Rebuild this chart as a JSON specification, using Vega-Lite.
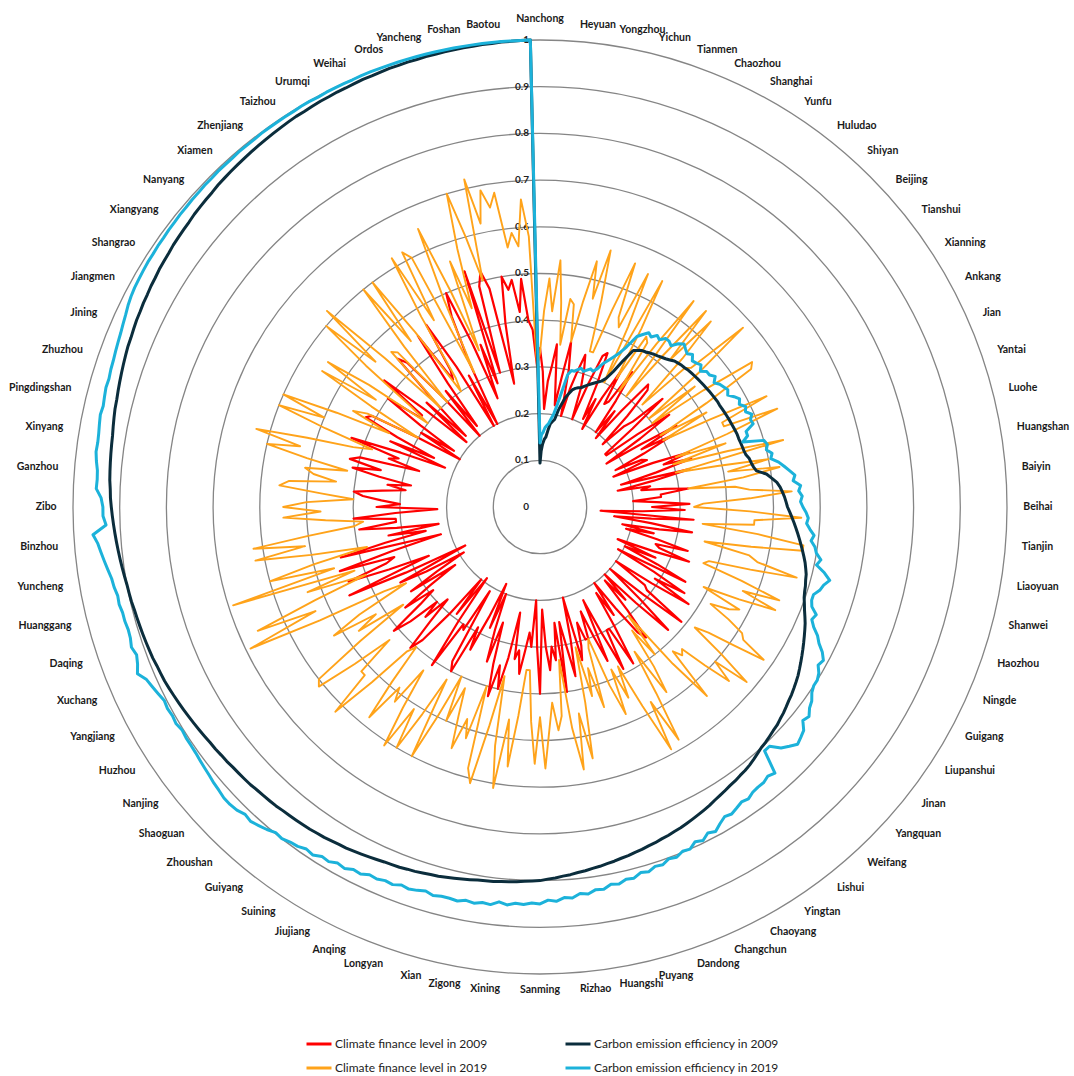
{
"$schema":"https://vega.github.io/schema/vega-lite/v6.json",
"width":1074,"height":1076,"autosize":"none","padding":0,"background":"white",
"config":{"view":{"stroke":null},"font":"Lato"},
"datasets":{
"rings":[{"g":0},{"g":0.1},{"g":0.2},{"g":0.3},{"g":0.4},{"g":0.5},{"g":0.6},{"g":0.7},{"g":0.8},{"g":0.9},{"g":1}],
"cities":[
{"i":0,"city":"Nanchong","cf09":0.34,"cf19":0.33,"ce09":0.094,"ce19":0.137},
{"i":1,"cf09":0.29,"cf19":0.42,"ce09":0.12,"ce19":0.155},
{"i":2,"cf09":0.21,"cf19":0.49,"ce09":0.135,"ce19":0.16},
{"i":3,"cf09":0.27,"cf19":0.42,"ce09":0.145,"ce19":0.17},
{"i":4,"city":"Heyuan","cf09":0.30,"cf19":0.53,"ce09":0.15,"ce19":0.175},
{"i":5,"cf09":0.35,"cf19":0.44,"ce09":0.165,"ce19":0.18},
{"i":6,"cf09":0.27,"cf19":0.35,"ce09":0.18,"ce19":0.19},
{"i":7,"cf09":0.22,"cf19":0.45,"ce09":0.185,"ce19":0.20},
{"i":8,"city":"Yongzhou","cf09":0.28,"cf19":0.44,"ce09":0.19,"ce19":0.22},
{"i":9,"cf09":0.36,"cf19":0.36,"ce09":0.21,"ce19":0.25},
{"i":10,"cf09":0.30,"cf19":0.45,"ce09":0.225,"ce19":0.29},
{"i":11,"cf09":0.20,"cf19":0.54,"ce09":0.24,"ce19":0.30},
{"i":12,"city":"Yichun","cf09":0.26,"cf19":0.46,"ce09":0.25,"ce19":0.30},
{"i":13,"cf09":0.30,"cf19":0.57,"ce09":0.26,"ce19":0.305},
{"i":14,"cf09":0.34,"cf19":0.46,"ce09":0.265,"ce19":0.31},
{"i":15,"cf09":0.31,"cf19":0.35,"ce09":0.268,"ce19":0.305},
{"i":16,"city":"Tianmen","cf09":0.27,"cf19":0.35,"ce09":0.27,"ce19":0.31},
{"i":17,"cf09":0.20,"cf19":0.45,"ce09":0.275,"ce19":0.315},
{"i":18,"cf09":0.28,"cf19":0.56,"ce09":0.28,"ce19":0.312},
{"i":19,"cf09":0.35,"cf19":0.44,"ce09":0.285,"ce19":0.32},
{"i":20,"city":"Chaozhou","cf09":0.36,"cf19":0.42,"ce09":0.29,"ce19":0.335},
{"i":21,"cf09":0.29,"cf19":0.55,"ce09":0.295,"ce19":0.345},
{"i":22,"cf09":0.21,"cf19":0.43,"ce09":0.30,"ce19":0.357},
{"i":23,"cf09":0.26,"cf19":0.30,"ce09":0.31,"ce19":0.37},
{"i":24,"city":"Shanghai","cf09":0.19,"cf19":0.55,"ce09":0.33,"ce19":0.39},
{"i":25,"cf09":0.27,"cf19":0.44,"ce09":0.36,"ce19":0.42},
{"i":26,"cf09":0.34,"cf19":0.32,"ce09":0.39,"ce19":0.43},
{"i":27,"cf09":0.26,"cf19":0.43,"ce09":0.395,"ce19":0.44},
{"i":28,"city":"Yunfu","cf09":0.27,"cf19":0.42,"ce09":0.40,"ce19":0.435},
{"i":29,"cf09":0.35,"cf19":0.30,"ce09":0.402,"ce19":0.445},
{"i":30,"cf09":0.28,"cf19":0.43,"ce09":0.405,"ce19":0.44},
{"i":31,"cf09":0.20,"cf19":0.55,"ce09":0.408,"ce19":0.45},
{"i":32,"city":"Huludao","cf09":0.26,"cf19":0.30,"ce09":0.41,"ce19":0.45},
{"i":33,"cf09":0.19,"cf19":0.42,"ce09":0.413,"ce19":0.445},
{"i":34,"cf09":0.27,"cf19":0.55,"ce09":0.416,"ce19":0.458},
{"i":35,"cf09":0.35,"cf19":0.42,"ce09":0.42,"ce19":0.466},
{"i":36,"city":"Shiyan","cf09":0.34,"cf19":0.54,"ce09":0.425,"ce19":0.46},
{"i":37,"cf09":0.27,"cf19":0.44,"ce09":0.427,"ce19":0.455},
{"i":38,"cf09":0.19,"cf19":0.31,"ce09":0.429,"ce19":0.462},
{"i":39,"cf09":0.25,"cf19":0.43,"ce09":0.43,"ce19":0.452},
{"i":40,"city":"Beijing","cf09":0.27,"cf19":0.44,"ce09":0.432,"ce19":0.455},
{"i":41,"cf09":0.35,"cf19":0.58,"ce09":0.433,"ce19":0.46},
{"i":42,"cf09":0.26,"cf19":0.45,"ce09":0.434,"ce19":0.45},
{"i":43,"cf09":0.18,"cf19":0.30,"ce09":0.435,"ce19":0.46},
{"i":44,"city":"Tianshui","cf09":0.18,"cf19":0.42,"ce09":0.436,"ce19":0.46},
{"i":45,"cf09":0.26,"cf19":0.30,"ce09":0.437,"ce19":0.468},
{"i":46,"cf09":0.34,"cf19":0.43,"ce09":0.438,"ce19":0.458},
{"i":47,"cf09":0.26,"cf19":0.55,"ce09":0.439,"ce19":0.466},
{"i":48,"city":"Xianning","cf09":0.17,"cf19":0.54,"ce09":0.44,"ce19":0.47},
{"i":49,"cf09":0.25,"cf19":0.42,"ce09":0.441,"ce19":0.474},
{"i":50,"cf09":0.34,"cf19":0.30,"ce09":0.442,"ce19":0.468},
{"i":51,"cf09":0.25,"cf19":0.41,"ce09":0.442,"ce19":0.478},
{"i":52,"city":"Ankang","cf09":0.32,"cf19":0.30,"ce09":0.443,"ce19":0.486},
{"i":53,"cf09":0.25,"cf19":0.41,"ce09":0.444,"ce19":0.48},
{"i":54,"cf09":0.18,"cf19":0.54,"ce09":0.445,"ce19":0.49},
{"i":55,"cf09":0.24,"cf19":0.43,"ce09":0.446,"ce19":0.485},
{"i":56,"city":"Jian","cf09":0.25,"cf19":0.43,"ce09":0.447,"ce19":0.495},
{"i":57,"cf09":0.17,"cf19":0.55,"ce09":0.448,"ce19":0.488},
{"i":58,"cf09":0.26,"cf19":0.43,"ce09":0.449,"ce19":0.49},
{"i":59,"cf09":0.34,"cf19":0.31,"ce09":0.45,"ce19":0.47},
{"i":60,"city":"Yantai","cf09":0.28,"cf19":0.42,"ce09":0.45,"ce19":0.47},
{"i":61,"cf09":0.34,"cf19":0.30,"ce09":0.451,"ce19":0.456},
{"i":62,"cf09":0.26,"cf19":0.42,"ce09":0.452,"ce19":0.50},
{"i":63,"cf09":0.18,"cf19":0.54,"ce09":0.453,"ce19":0.505},
{"i":64,"city":"Luohe","cf09":0.33,"cf19":0.30,"ce09":0.455,"ce19":0.50},
{"i":65,"cf09":0.25,"cf19":0.39,"ce09":0.46,"ce19":0.51},
{"i":66,"cf09":0.17,"cf19":0.50,"ce09":0.462,"ce19":0.505},
{"i":67,"cf09":0.24,"cf19":0.41,"ce09":0.465,"ce19":0.52},
{"i":68,"city":"Huangshan","cf09":0.22,"cf19":0.52,"ce09":0.47,"ce19":0.53},
{"i":69,"cf09":0.27,"cf19":0.44,"ce09":0.49,"ce19":0.54},
{"i":70,"cf09":0.32,"cf19":0.32,"ce09":0.50,"ce19":0.55},
{"i":71,"cf09":0.26,"cf19":0.42,"ce09":0.51,"ce19":0.545},
{"i":72,"city":"Baiyin","cf09":0.26,"cf19":0.45,"ce09":0.516,"ce19":0.56},
{"i":73,"cf09":0.20,"cf19":0.54,"ce09":0.52,"ce19":0.555},
{"i":74,"cf09":0.25,"cf19":0.45,"ce09":0.524,"ce19":0.562},
{"i":75,"cf09":0.32,"cf19":0.35,"ce09":0.527,"ce19":0.558},
{"i":76,"city":"Beihai","cf09":0.24,"cf19":0.33,"ce09":0.53,"ce19":0.563},
{"i":77,"cf09":0.31,"cf19":0.45,"ce09":0.535,"ce19":0.57},
{"i":78,"cf09":0.22,"cf19":0.56,"ce09":0.54,"ce19":0.575},
{"i":79,"cf09":0.13,"cf19":0.46,"ce09":0.545,"ce19":0.572},
{"i":80,"city":"Tianjin","cf09":0.33,"cf19":0.46,"ce09":0.55,"ce19":0.58},
{"i":81,"cf09":0.24,"cf19":0.35,"ce09":0.555,"ce19":0.59},
{"i":82,"cf09":0.16,"cf19":0.47,"ce09":0.56,"ce19":0.585},
{"i":83,"cf09":0.24,"cf19":0.57,"ce09":0.565,"ce19":0.595},
{"i":84,"city":"Liaoyuan","cf09":0.33,"cf19":0.57,"ce09":0.57,"ce19":0.60},
{"i":85,"cf09":0.26,"cf19":0.46,"ce09":0.575,"ce19":0.612},
{"i":86,"cf09":0.18,"cf19":0.36,"ce09":0.58,"ce19":0.605},
{"i":87,"cf09":0.25,"cf19":0.46,"ce09":0.584,"ce19":0.625},
{"i":88,"city":"Shanwei","cf09":0.19,"cf19":0.48,"ce09":0.588,"ce19":0.64},
{"i":89,"cf09":0.26,"cf19":0.57,"ce09":0.59,"ce19":0.63},
{"i":90,"cf09":0.33,"cf19":0.47,"ce09":0.593,"ce19":0.625},
{"i":91,"cf09":0.26,"cf19":0.38,"ce09":0.595,"ce19":0.615},
{"i":92,"city":"Haozhou","cf09":0.27,"cf19":0.37,"ce09":0.598,"ce19":0.615},
{"i":93,"cf09":0.34,"cf19":0.46,"ce09":0.603,"ce19":0.62},
{"i":94,"cf09":0.26,"cf19":0.55,"ce09":0.608,"ce19":0.635},
{"i":95,"cf09":0.18,"cf19":0.47,"ce09":0.614,"ce19":0.63},
{"i":96,"city":"Ningde","cf09":0.27,"cf19":0.55,"ce09":0.62,"ce19":0.64},
{"i":97,"cf09":0.20,"cf19":0.47,"ce09":0.625,"ce19":0.655},
{"i":98,"cf09":0.28,"cf19":0.39,"ce09":0.63,"ce19":0.665},
{"i":99,"cf09":0.35,"cf19":0.48,"ce09":0.635,"ce19":0.68},
{"i":100,"city":"Guigang","cf09":0.19,"cf19":0.46,"ce09":0.64,"ce19":0.69},
{"i":101,"cf09":0.28,"cf19":0.42,"ce09":0.645,"ce19":0.685},
{"i":102,"cf09":0.36,"cf19":0.47,"ce09":0.65,"ce19":0.695},
{"i":103,"cf09":0.29,"cf19":0.51,"ce09":0.655,"ce19":0.70},
{"i":104,"city":"Liupanshui","cf09":0.38,"cf19":0.52,"ce09":0.66,"ce19":0.70},
{"i":105,"cf09":0.29,"cf19":0.58,"ce09":0.664,"ce19":0.705},
{"i":106,"cf09":0.20,"cf19":0.51,"ce09":0.668,"ce19":0.715},
{"i":107,"cf09":0.28,"cf19":0.45,"ce09":0.672,"ce19":0.72},
{"i":108,"city":"Jinan","cf09":0.29,"cf19":0.42,"ce09":0.675,"ce19":0.73},
{"i":109,"cf09":0.39,"cf19":0.50,"ce09":0.679,"ce19":0.725},
{"i":110,"cf09":0.29,"cf19":0.58,"ce09":0.683,"ce19":0.74},
{"i":111,"cf09":0.20,"cf19":0.50,"ce09":0.686,"ce19":0.745},
{"i":112,"city":"Yangquan","cf09":0.29,"cf19":0.55,"ce09":0.69,"ce19":0.75},
{"i":113,"cf09":0.38,"cf19":0.49,"ce09":0.692,"ce19":0.74},
{"i":114,"cf09":0.29,"cf19":0.43,"ce09":0.695,"ce19":0.73},
{"i":115,"cf09":0.20,"cf19":0.44,"ce09":0.698,"ce19":0.71},
{"i":116,"city":"Weifang","cf09":0.27,"cf19":0.42,"ce09":0.70,"ce19":0.71},
{"i":117,"cf09":0.21,"cf19":0.54,"ce09":0.704,"ce19":0.76},
{"i":118,"cf09":0.29,"cf19":0.44,"ce09":0.708,"ce19":0.755},
{"i":119,"cf09":0.36,"cf19":0.30,"ce09":0.712,"ce19":0.76},
{"i":120,"city":"Lishui","cf09":0.34,"cf19":0.40,"ce09":0.715,"ce19":0.76},
{"i":121,"cf09":0.27,"cf19":0.33,"ce09":0.717,"ce19":0.762},
{"i":122,"cf09":0.20,"cf19":0.42,"ce09":0.72,"ce19":0.768},
{"i":123,"cf09":0.28,"cf19":0.48,"ce09":0.722,"ce19":0.765},
{"i":124,"city":"Yingtan","cf09":0.22,"cf19":0.37,"ce09":0.725,"ce19":0.77},
{"i":125,"cf09":0.30,"cf19":0.47,"ce09":0.728,"ce19":0.775},
{"i":126,"cf09":0.39,"cf19":0.58,"ce09":0.731,"ce19":0.772},
{"i":127,"cf09":0.30,"cf19":0.48,"ce09":0.735,"ce19":0.78},
{"i":128,"city":"Chaoyang","cf09":0.30,"cf19":0.59,"ce09":0.738,"ce19":0.79},
{"i":129,"cf09":0.39,"cf19":0.48,"ce09":0.741,"ce19":0.785},
{"i":130,"cf09":0.30,"cf19":0.38,"ce09":0.744,"ce19":0.795},
{"i":131,"cf09":0.22,"cf19":0.45,"ce09":0.747,"ce19":0.79},
{"i":132,"city":"Changchun","cf09":0.36,"cf19":0.38,"ce09":0.75,"ce19":0.80},
{"i":133,"cf09":0.30,"cf19":0.48,"ce09":0.752,"ce19":0.798},
{"i":134,"cf09":0.24,"cf19":0.41,"ce09":0.755,"ce19":0.805},
{"i":135,"cf09":0.30,"cf19":0.30,"ce09":0.757,"ce19":0.802},
{"i":136,"city":"Dandong","cf09":0.30,"cf19":0.32,"ce09":0.76,"ce19":0.81},
{"i":137,"cf09":0.26,"cf19":0.45,"ce09":0.762,"ce19":0.808},
{"i":138,"cf09":0.31,"cf19":0.36,"ce09":0.765,"ce19":0.815},
{"i":139,"cf09":0.34,"cf19":0.42,"ce09":0.767,"ce19":0.812},
{"i":140,"city":"Puyang","cf09":0.20,"cf19":0.31,"ce09":0.77,"ce19":0.82},
{"i":141,"cf09":0.29,"cf19":0.43,"ce09":0.772,"ce19":0.818},
{"i":142,"cf09":0.37,"cf19":0.55,"ce09":0.775,"ce19":0.825},
{"i":143,"cf09":0.30,"cf19":0.45,"ce09":0.777,"ce19":0.822},
{"i":144,"city":"Huangshi","cf09":0.25,"cf19":0.57,"ce09":0.78,"ce19":0.83},
{"i":145,"cf09":0.40,"cf19":0.48,"ce09":0.782,"ce19":0.828},
{"i":146,"cf09":0.25,"cf19":0.33,"ce09":0.785,"ce19":0.835},
{"i":147,"cf09":0.33,"cf19":0.45,"ce09":0.787,"ce19":0.832},
{"i":148,"city":"Rizhao","cf09":0.30,"cf19":0.48,"ce09":0.79,"ce19":0.84},
{"i":149,"cf09":0.35,"cf19":0.42,"ce09":0.792,"ce19":0.838},
{"i":150,"cf09":0.30,"cf19":0.48,"ce09":0.795,"ce19":0.845},
{"i":151,"cf09":0.22,"cf19":0.56,"ce09":0.797,"ce19":0.842},
{"i":152,"city":"Sanming","cf09":0.40,"cf19":0.45,"ce09":0.80,"ce19":0.85},
{"i":153,"cf09":0.30,"cf19":0.55,"ce09":0.801,"ce19":0.848},
{"i":154,"cf09":0.20,"cf19":0.46,"ce09":0.802,"ce19":0.852},
{"i":155,"cf09":0.30,"cf19":0.35,"ce09":0.804,"ce19":0.85},
{"i":156,"city":"Xining","cf09":0.27,"cf19":0.35,"ce09":0.805,"ce19":0.855},
{"i":157,"cf09":0.31,"cf19":0.45,"ce09":0.806,"ce19":0.85},
{"i":158,"cf09":0.36,"cf19":0.56,"ce09":0.808,"ce19":0.858},
{"i":159,"cf09":0.31,"cf19":0.46,"ce09":0.809,"ce19":0.856},
{"i":160,"city":"Zigong","cf09":0.33,"cf19":0.61,"ce09":0.81,"ce19":0.86},
{"i":161,"cf09":0.23,"cf19":0.52,"ce09":0.812,"ce19":0.857},
{"i":162,"cf09":0.33,"cf19":0.37,"ce09":0.814,"ce19":0.862},
{"i":163,"cf09":0.40,"cf19":0.48,"ce09":0.816,"ce19":0.86},
{"i":164,"city":"Xian","cf09":0.35,"cf19":0.61,"ce09":0.818,"ce19":0.86},
{"i":165,"cf09":0.42,"cf19":0.58,"ce09":0.82,"ce19":0.863},
{"i":166,"cf09":0.35,"cf19":0.40,"ce09":0.821,"ce19":0.858},
{"i":167,"cf09":0.26,"cf19":0.52,"ce09":0.823,"ce19":0.862},
{"i":168,"city":"Longyan","cf09":0.35,"cf19":0.48,"ce09":0.825,"ce19":0.865},
{"i":169,"cf09":0.28,"cf19":0.55,"ce09":0.826,"ce19":0.862},
{"i":170,"cf09":0.20,"cf19":0.48,"ce09":0.828,"ce19":0.868},
{"i":171,"cf09":0.28,"cf19":0.42,"ce09":0.829,"ce19":0.866},
{"i":172,"city":"Anqing","cf09":0.18,"cf19":0.50,"ce09":0.83,"ce19":0.87},
{"i":173,"cf09":0.26,"cf19":0.40,"ce09":0.832,"ce19":0.868},
{"i":174,"cf09":0.34,"cf19":0.50,"ce09":0.834,"ce19":0.875},
{"i":175,"cf09":0.29,"cf19":0.60,"ce09":0.836,"ce19":0.873},
{"i":176,"city":"Jiujiang","cf09":0.40,"cf19":0.42,"ce09":0.838,"ce19":0.88},
{"i":177,"cf09":0.38,"cf19":0.51,"ce09":0.84,"ce19":0.877},
{"i":178,"cf09":0.21,"cf19":0.60,"ce09":0.841,"ce19":0.884},
{"i":179,"cf09":0.31,"cf19":0.51,"ce09":0.843,"ce19":0.882},
{"i":180,"city":"Suining","cf09":0.30,"cf19":0.61,"ce09":0.845,"ce19":0.89},
{"i":181,"cf09":0.41,"cf19":0.52,"ce09":0.846,"ce19":0.887},
{"i":182,"cf09":0.30,"cf19":0.43,"ce09":0.848,"ce19":0.893},
{"i":183,"cf09":0.19,"cf19":0.52,"ce09":0.849,"ce19":0.895},
{"i":184,"city":"Guiyang","cf09":0.29,"cf19":0.49,"ce09":0.85,"ce19":0.90},
{"i":185,"cf09":0.20,"cf19":0.58,"ce09":0.851,"ce19":0.898},
{"i":186,"cf09":0.30,"cf19":0.49,"ce09":0.852,"ce19":0.905},
{"i":187,"cf09":0.38,"cf19":0.40,"ce09":0.854,"ce19":0.91},
{"i":188,"city":"Zhoushan","cf09":0.41,"cf19":0.42,"ce09":0.855,"ce19":0.915},
{"i":189,"cf09":0.34,"cf19":0.52,"ce09":0.856,"ce19":0.912},
{"i":190,"cf09":0.28,"cf19":0.62,"ce09":0.857,"ce19":0.918},
{"i":191,"cf09":0.34,"cf19":0.52,"ce09":0.859,"ce19":0.92},
{"i":192,"city":"Shaoguan","cf09":0.30,"cf19":0.52,"ce09":0.86,"ce19":0.92},
{"i":193,"cf09":0.37,"cf19":0.43,"ce09":0.861,"ce19":0.917},
{"i":194,"cf09":0.41,"cf19":0.52,"ce09":0.862,"ce19":0.915},
{"i":195,"cf09":0.33,"cf19":0.61,"ce09":0.864,"ce19":0.912},
{"i":196,"city":"Nanjing","cf09":0.29,"cf19":0.60,"ce09":0.865,"ce19":0.91},
{"i":197,"cf09":0.36,"cf19":0.48,"ce09":0.867,"ce19":0.908},
{"i":198,"cf09":0.29,"cf19":0.36,"ce09":0.868,"ce19":0.906},
{"i":199,"cf09":0.22,"cf19":0.47,"ce09":0.87,"ce19":0.905},
{"i":200,"city":"Huzhou","cf09":0.33,"cf19":0.42,"ce09":0.872,"ce19":0.905},
{"i":201,"cf09":0.26,"cf19":0.52,"ce09":0.874,"ce19":0.903},
{"i":202,"cf09":0.19,"cf19":0.45,"ce09":0.876,"ce19":0.907},
{"i":203,"cf09":0.28,"cf19":0.33,"ce09":0.878,"ce19":0.905},
{"i":204,"city":"Yangjiang","cf09":0.34,"cf19":0.38,"ce09":0.88,"ce19":0.907},
{"i":205,"cf09":0.18,"cf19":0.53,"ce09":0.882,"ce19":0.905},
{"i":206,"cf09":0.32,"cf19":0.69,"ce09":0.884,"ce19":0.91},
{"i":207,"cf09":0.45,"cf19":0.53,"ce09":0.886,"ce19":0.915},
{"i":208,"city":"Xuchang","cf09":0.26,"cf19":0.66,"ce09":0.887,"ce19":0.92},
{"i":209,"cf09":0.35,"cf19":0.52,"ce09":0.888,"ce19":0.933},
{"i":210,"cf09":0.44,"cf19":0.40,"ce09":0.89,"ce19":0.925},
{"i":211,"cf09":0.35,"cf19":0.53,"ce09":0.891,"ce19":0.92},
{"i":212,"city":"Daqing","cf09":0.33,"cf19":0.42,"ce09":0.892,"ce19":0.925},
{"i":213,"cf09":0.45,"cf19":0.69,"ce09":0.893,"ce19":0.921},
{"i":214,"cf09":0.33,"cf19":0.46,"ce09":0.894,"ce19":0.92},
{"i":215,"cf09":0.22,"cf19":0.60,"ce09":0.895,"ce19":0.922},
{"i":216,"city":"Huanggang","cf09":0.44,"cf19":0.50,"ce09":0.896,"ce19":0.922},
{"i":217,"cf09":0.34,"cf19":0.38,"ce09":0.898,"ce19":0.925},
{"i":218,"cf09":0.25,"cf19":0.50,"ce09":0.899,"ce19":0.924},
{"i":219,"cf09":0.33,"cf19":0.62,"ce09":0.90,"ce19":0.928},
{"i":220,"city":"Yuncheng","cf09":0.22,"cf19":0.51,"ce09":0.902,"ce19":0.93},
{"i":221,"cf09":0.31,"cf19":0.62,"ce09":0.904,"ce19":0.935},
{"i":222,"cf09":0.39,"cf19":0.50,"ce09":0.906,"ce19":0.94},
{"i":223,"cf09":0.31,"cf19":0.40,"ce09":0.908,"ce19":0.945},
{"i":224,"city":"Binzhou","cf09":0.31,"cf19":0.38,"ce09":0.91,"ce19":0.95},
{"i":225,"cf09":0.40,"cf19":0.46,"ce09":0.912,"ce19":0.959},
{"i":226,"cf09":0.31,"cf19":0.55,"ce09":0.914,"ce19":0.93},
{"i":227,"cf09":0.22,"cf19":0.47,"ce09":0.916,"ce19":0.936},
{"i":228,"city":"Zibo","cf09":0.35,"cf19":0.55,"ce09":0.918,"ce19":0.936},
{"i":229,"cf09":0.30,"cf19":0.50,"ce09":0.92,"ce19":0.94},
{"i":230,"cf09":0.34,"cf19":0.40,"ce09":0.921,"ce19":0.951},
{"i":231,"cf09":0.38,"cf19":0.47,"ce09":0.923,"ce19":0.95},
{"i":232,"city":"Ganzhou","cf09":0.40,"cf19":0.56,"ce09":0.924,"ce19":0.951},
{"i":233,"cf09":0.34,"cf19":0.54,"ce09":0.925,"ce19":0.955},
{"i":234,"cf09":0.29,"cf19":0.44,"ce09":0.926,"ce19":0.958},
{"i":235,"cf09":0.33,"cf19":0.49,"ce09":0.927,"ce19":0.957},
{"i":236,"city":"Xinyang","cf09":0.28,"cf19":0.51,"ce09":0.928,"ce19":0.958},
{"i":237,"cf09":0.35,"cf19":0.42,"ce09":0.93,"ce19":0.96},
{"i":238,"cf09":0.41,"cf19":0.51,"ce09":0.932,"ce19":0.962},
{"i":239,"cf09":0.35,"cf19":0.60,"ce09":0.934,"ce19":0.96},
{"i":240,"city":"Pingdingshan","cf09":0.42,"cf19":0.53,"ce09":0.935,"ce19":0.962},
{"i":241,"cf09":0.40,"cf19":0.63,"ce09":0.937,"ce19":0.964},
{"i":242,"cf09":0.27,"cf19":0.52,"ce09":0.939,"ce19":0.963},
{"i":243,"cf09":0.34,"cf19":0.42,"ce09":0.941,"ce19":0.965},
{"i":244,"city":"Zhuzhou","cf09":0.32,"cf19":0.38,"ce09":0.943,"ce19":0.966},
{"i":245,"cf09":0.43,"cf19":0.49,"ce09":0.945,"ce19":0.968},
{"i":246,"cf09":0.32,"cf19":0.60,"ce09":0.947,"ce19":0.97},
{"i":247,"cf09":0.22,"cf19":0.50,"ce09":0.948,"ce19":0.972},
{"i":248,"city":"Jining","cf09":0.35,"cf19":0.60,"ce09":0.95,"ce19":0.975},
{"i":249,"cf09":0.25,"cf19":0.48,"ce09":0.952,"ce19":0.978},
{"i":250,"cf09":0.34,"cf19":0.36,"ce09":0.953,"ce19":0.982},
{"i":251,"cf09":0.42,"cf19":0.45,"ce09":0.955,"ce19":0.985},
{"i":252,"city":"Jiangmen","cf09":0.41,"cf19":0.42,"ce09":0.956,"ce19":0.987},
{"i":253,"cf09":0.30,"cf19":0.30,"ce09":0.958,"ce19":0.988},
{"i":254,"cf09":0.20,"cf19":0.42,"ce09":0.959,"ce19":0.989},
{"i":255,"cf09":0.30,"cf19":0.55,"ce09":0.961,"ce19":0.99},
{"i":256,"city":"Shangrao","cf09":0.22,"cf19":0.42,"ce09":0.962,"ce19":0.99},
{"i":257,"cf09":0.31,"cf19":0.55,"ce09":0.963,"ce19":0.991},
{"i":258,"cf09":0.40,"cf19":0.45,"ce09":0.965,"ce19":0.991},
{"i":259,"cf09":0.32,"cf19":0.30,"ce09":0.966,"ce19":0.992},
{"i":260,"city":"Xiangyang","cf09":0.32,"cf19":0.35,"ce09":0.967,"ce19":0.992},
{"i":261,"cf09":0.43,"cf19":0.48,"ce09":0.968,"ce19":0.993},
{"i":262,"cf09":0.32,"cf19":0.60,"ce09":0.97,"ce19":0.993},
{"i":263,"cf09":0.21,"cf19":0.47,"ce09":0.971,"ce19":0.994},
{"i":264,"city":"Nanyang","cf09":0.33,"cf19":0.62,"ce09":0.972,"ce19":0.994},
{"i":265,"cf09":0.22,"cf19":0.46,"ce09":0.973,"ce19":0.995},
{"i":266,"cf09":0.32,"cf19":0.30,"ce09":0.975,"ce19":0.995},
{"i":267,"cf09":0.44,"cf19":0.46,"ce09":0.976,"ce19":0.996},
{"i":268,"city":"Xiamen","cf09":0.42,"cf19":0.45,"ce09":0.977,"ce19":0.996},
{"i":269,"cf09":0.31,"cf19":0.30,"ce09":0.978,"ce19":0.996},
{"i":270,"cf09":0.20,"cf19":0.45,"ce09":0.979,"ce19":0.997},
{"i":271,"cf09":0.32,"cf19":0.60,"ce09":0.98,"ce19":0.997},
{"i":272,"city":"Zhenjiang","cf09":0.22,"cf19":0.45,"ce09":0.981,"ce19":0.997},
{"i":273,"cf09":0.33,"cf19":0.60,"ce09":0.982,"ce19":0.998},
{"i":274,"cf09":0.45,"cf19":0.46,"ce09":0.983,"ce19":0.998},
{"i":275,"cf09":0.33,"cf19":0.30,"ce09":0.984,"ce19":0.998},
{"i":276,"city":"Taizhou","cf09":0.35,"cf19":0.33,"ce09":0.985,"ce19":0.998},
{"i":277,"cf09":0.46,"cf19":0.48,"ce09":0.986,"ce19":0.998},
{"i":278,"cf09":0.35,"cf19":0.62,"ce09":0.986,"ce19":0.999},
{"i":279,"cf09":0.20,"cf19":0.46,"ce09":0.987,"ce19":0.999},
{"i":280,"city":"Urumqi","cf09":0.32,"cf19":0.62,"ce09":0.988,"ce19":0.998},
{"i":281,"cf09":0.20,"cf19":0.60,"ce09":0.988,"ce19":0.999},
{"i":282,"cf09":0.35,"cf19":0.32,"ce09":0.989,"ce19":0.999},
{"i":283,"cf09":0.45,"cf19":0.49,"ce09":0.989,"ce19":0.999},
{"i":284,"city":"Weihai","cf09":0.50,"cf19":0.65,"ce09":0.99,"ce19":0.999},
{"i":285,"cf09":0.38,"cf19":0.50,"ce09":0.991,"ce19":1.0},
{"i":286,"cf09":0.25,"cf19":0.36,"ce09":0.991,"ce19":1.0},
{"i":287,"cf09":0.37,"cf19":0.56,"ce09":0.992,"ce19":1.0},
{"i":288,"city":"Ordos","cf09":0.28,"cf19":0.45,"ce09":0.993,"ce19":1.0},
{"i":289,"cf09":0.53,"cf19":0.58,"ce09":0.993,"ce19":1.0},
{"i":290,"cf09":0.30,"cf19":0.70,"ce09":0.994,"ce19":1.0},
{"i":291,"cf09":0.49,"cf19":0.60,"ce09":0.994,"ce19":1.0},
{"i":292,"city":"Yancheng","cf09":0.52,"cf19":0.50,"ce09":0.995,"ce19":1.0},
{"i":293,"cf09":0.48,"cf19":0.72,"ce09":0.995,"ce19":1.0},
{"i":294,"cf09":0.27,"cf19":0.62,"ce09":0.996,"ce19":1.0},
{"i":295,"cf09":0.40,"cf19":0.69,"ce09":0.996,"ce19":1.0},
{"i":296,"city":"Foshan","cf09":0.50,"cf19":0.65,"ce09":0.997,"ce19":1.0},
{"i":297,"cf09":0.47,"cf19":0.68,"ce09":0.997,"ce19":1.0},
{"i":298,"cf09":0.49,"cf19":0.56,"ce09":0.998,"ce19":1.0},
{"i":299,"cf09":0.42,"cf19":0.59,"ce09":0.998,"ce19":1.0},
{"i":300,"city":"Baotou","cf09":0.49,"cf19":0.56,"ce09":0.999,"ce19":1.0},
{"i":301,"cf09":0.40,"cf19":0.66,"ce09":0.999,"ce19":1.0},
{"i":302,"cf09":0.38,"cf19":0.58,"ce09":1.0,"ce19":1.0},
{"i":303,"cf09":0.30,"cf19":0.30,"ce09":1.0,"ce19":1.0}
]},
"layer":[
{"data":{"name":"rings"},"transform":[{"filter":"datum.g > 0"}],
 "mark":{"type":"arc","filled":false,"color":"#858585","strokeWidth":1.3,"theta":0,"theta2":6.2832},
 "encoding":{
  "x":{"datum":0,"type":"quantitative","scale":{"domain":[-1.15632,1.14347],"nice":false,"zero":false},"axis":null},
  "y":{"datum":0,"type":"quantitative","scale":{"domain":[-1.21842,1.08565],"nice":false,"zero":false},"axis":null},
  "radius":{"field":"g","type":"quantitative","stack":null,"scale":{"type":"linear","domain":[0,1],"range":[0,467],"zero":true}}}},
{"data":{"name":"rings"},
 "mark":{"type":"text","align":"right","baseline":"middle","dx":-11,"font":"Lato","fontSize":10,"fontWeight":"bold","color":"#222222"},
 "encoding":{
  "x":{"datum":0,"type":"quantitative","scale":{"domain":[-1.15632,1.14347],"nice":false,"zero":false},"axis":null},
  "y":{"field":"g","type":"quantitative","scale":{"domain":[-1.21842,1.08565],"nice":false,"zero":false},"axis":null},
  "text":{"field":"g","type":"quantitative"}}},
{"data":{"name":"cities"},
 "transform":[{"fold":["cf09"],"as":["series","v"]},{"calculate":"datum.i*2*PI/304","as":"t"},{"calculate":"datum.v*sin(datum.t)","as":"px"},{"calculate":"datum.v*cos(datum.t)","as":"py"}],
 "mark":{"type":"line","interpolate":"linear-closed","strokeWidth":2.2,"strokeJoin":"round"},
 "encoding":{
  "x":{"field":"px","type":"quantitative","scale":{"domain":[-1.15632,1.14347],"nice":false,"zero":false},"axis":null},
  "y":{"field":"py","type":"quantitative","scale":{"domain":[-1.21842,1.08565],"nice":false,"zero":false},"axis":null},
  "order":{"field":"i","type":"quantitative"},
  "color":{"field":"series","type":"nominal","scale":{"domain":["cf09","cf19","ce09","ce19"],"range":["#ff0000","#ffa31a","#0b2d3c","#1cb2da"]},
   "legend":{"title":null,"orient":"none","legendX":305,"legendY":1030,"columns":2,"columnPadding":71,"rowPadding":4,"padding":0,"symbolType":"stroke","symbolSize":625,"symbolStrokeWidth":3,"labelFont":"Lato","labelFontSize":12,"labelColor":"#222222","labelOffset":2,"labelLimit":0,
    "labelExpr":"datum.label=='cf09'?'Climate finance level in 2009':datum.label=='cf19'?'Climate finance level in 2019':datum.label=='ce09'?'Carbon emission efficiency in 2009':'Carbon emission efficiency in 2019'"}}}},
{"data":{"name":"cities"},
 "transform":[{"fold":["cf19"],"as":["series","v"]},{"calculate":"datum.i*2*PI/304","as":"t"},{"calculate":"datum.v*sin(datum.t)","as":"px"},{"calculate":"datum.v*cos(datum.t)","as":"py"}],
 "mark":{"type":"line","interpolate":"linear-closed","strokeWidth":1.9,"strokeJoin":"round"},
 "encoding":{
  "x":{"field":"px","type":"quantitative","scale":{"domain":[-1.15632,1.14347],"nice":false,"zero":false},"axis":null},
  "y":{"field":"py","type":"quantitative","scale":{"domain":[-1.21842,1.08565],"nice":false,"zero":false},"axis":null},
  "order":{"field":"i","type":"quantitative"},
  "color":{"field":"series","type":"nominal","scale":{"domain":["cf09","cf19","ce09","ce19"],"range":["#ff0000","#ffa31a","#0b2d3c","#1cb2da"]}}}},
{"data":{"name":"cities"},
 "transform":[{"fold":["ce09"],"as":["series","v"]},{"calculate":"datum.i*2*PI/304","as":"t"},{"calculate":"datum.v*sin(datum.t)","as":"px"},{"calculate":"datum.v*cos(datum.t)","as":"py"}],
 "mark":{"type":"line","interpolate":"linear-closed","strokeWidth":3,"strokeJoin":"round"},
 "encoding":{
  "x":{"field":"px","type":"quantitative","scale":{"domain":[-1.15632,1.14347],"nice":false,"zero":false},"axis":null},
  "y":{"field":"py","type":"quantitative","scale":{"domain":[-1.21842,1.08565],"nice":false,"zero":false},"axis":null},
  "order":{"field":"i","type":"quantitative"},
  "color":{"field":"series","type":"nominal","scale":{"domain":["cf09","cf19","ce09","ce19"],"range":["#ff0000","#ffa31a","#0b2d3c","#1cb2da"]}}}},
{"data":{"name":"cities"},
 "transform":[{"fold":["ce19"],"as":["series","v"]},{"calculate":"datum.i*2*PI/304","as":"t"},{"calculate":"datum.v*sin(datum.t)","as":"px"},{"calculate":"datum.v*cos(datum.t)","as":"py"}],
 "mark":{"type":"line","interpolate":"linear-closed","strokeWidth":3,"strokeJoin":"round"},
 "encoding":{
  "x":{"field":"px","type":"quantitative","scale":{"domain":[-1.15632,1.14347],"nice":false,"zero":false},"axis":null},
  "y":{"field":"py","type":"quantitative","scale":{"domain":[-1.21842,1.08565],"nice":false,"zero":false},"axis":null},
  "order":{"field":"i","type":"quantitative"},
  "color":{"field":"series","type":"nominal","scale":{"domain":["cf09","cf19","ce09","ce19"],"range":["#ff0000","#ffa31a","#0b2d3c","#1cb2da"]}}}},
{"data":{"name":"cities"},
 "transform":[{"filter":"isValid(datum.city) && datum.i > 0 && datum.i < 152"},{"calculate":"datum.i*2*PI/304","as":"t"},{"calculate":"1.035*sin(datum.t)","as":"lx"},{"calculate":"1.035*cos(datum.t)","as":"ly"}],
 "mark":{"type":"text","align":"left","baseline":"middle","font":"Lato","fontSize":10.5,"fontWeight":"bold","color":"#1a1a1a"},
 "encoding":{
  "x":{"field":"lx","type":"quantitative","scale":{"domain":[-1.15632,1.14347],"nice":false,"zero":false},"axis":null},
  "y":{"field":"ly","type":"quantitative","scale":{"domain":[-1.21842,1.08565],"nice":false,"zero":false},"axis":null},
  "text":{"field":"city","type":"nominal"}}},
{"data":{"name":"cities"},
 "transform":[{"filter":"isValid(datum.city) && datum.i > 152"},{"calculate":"datum.i*2*PI/304","as":"t"},{"calculate":"1.035*sin(datum.t)","as":"lx"},{"calculate":"1.035*cos(datum.t)","as":"ly"}],
 "mark":{"type":"text","align":"right","baseline":"middle","font":"Lato","fontSize":10.5,"fontWeight":"bold","color":"#1a1a1a"},
 "encoding":{
  "x":{"field":"lx","type":"quantitative","scale":{"domain":[-1.15632,1.14347],"nice":false,"zero":false},"axis":null},
  "y":{"field":"ly","type":"quantitative","scale":{"domain":[-1.21842,1.08565],"nice":false,"zero":false},"axis":null},
  "text":{"field":"city","type":"nominal"}}},
{"data":{"name":"cities"},
 "transform":[{"filter":"datum.i == 0"},{"calculate":"datum.i*2*PI/304","as":"t"},{"calculate":"1.035*sin(datum.t)","as":"lx"},{"calculate":"1.035*cos(datum.t)","as":"ly"}],
 "mark":{"type":"text","align":"center","baseline":"bottom","font":"Lato","fontSize":10.5,"fontWeight":"bold","color":"#1a1a1a"},
 "encoding":{
  "x":{"field":"lx","type":"quantitative","scale":{"domain":[-1.15632,1.14347],"nice":false,"zero":false},"axis":null},
  "y":{"field":"ly","type":"quantitative","scale":{"domain":[-1.21842,1.08565],"nice":false,"zero":false},"axis":null},
  "text":{"field":"city","type":"nominal"}}},
{"data":{"name":"cities"},
 "transform":[{"filter":"datum.i == 152"},{"calculate":"datum.i*2*PI/304","as":"t"},{"calculate":"1.035*sin(datum.t)","as":"lx"},{"calculate":"1.035*cos(datum.t)","as":"ly"}],
 "mark":{"type":"text","align":"center","baseline":"middle","font":"Lato","fontSize":10.5,"fontWeight":"bold","color":"#1a1a1a"},
 "encoding":{
  "x":{"field":"lx","type":"quantitative","scale":{"domain":[-1.15632,1.14347],"nice":false,"zero":false},"axis":null},
  "y":{"field":"ly","type":"quantitative","scale":{"domain":[-1.21842,1.08565],"nice":false,"zero":false},"axis":null},
  "text":{"field":"city","type":"nominal"}}}
]
}
